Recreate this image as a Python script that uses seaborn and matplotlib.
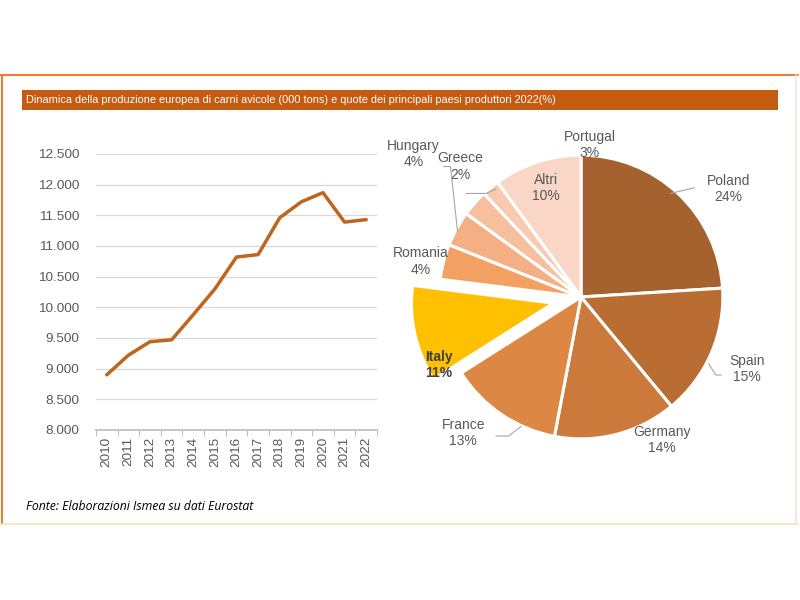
import numpy as np
import matplotlib
matplotlib.use("Agg")
import matplotlib.pyplot as plt
import seaborn as sns
from matplotlib.lines import Line2D
from matplotlib.patches import Rectangle

# data
years = [2010, 2011, 2012, 2013, 2014, 2015, 2016, 2017, 2018, 2019, 2020, 2021, 2022]
production = [8900, 9220, 9440, 9470, 9880, 10300, 10820, 10860, 11460, 11720, 11870, 11390, 11430]

countries = ['Poland', 'Spain', 'Germany', 'France', 'Italy', 'Romania',
             'Hungary', 'Portugal', 'Greece', 'Altri']
shares = [24, 15, 14, 13, 11, 4, 4, 3, 2, 10]
pie_colors = ['#A5622E', '#BA6D33', '#CC7A3C', '#DC8744', '#FFC000', '#F2A162',
              '#F4B084', '#F6BF9E', '#F8CAAF', '#F9D6C6']

title = "Dinamica della produzione europea di carni avicole (000 tons) e quote dei principali paesi produttori 2022(%)"
source = "Fonte: Elaborazioni Ismea su dati Eurostat"

sns.set_theme(style="white")
plt.rcParams['font.family'] = ['Liberation Sans', 'DejaVu Sans']

fig = plt.figure(figsize=(8, 6), dpi=100)
fig.patch.set_facecolor('white')

# outer frame
fig.add_artist(Line2D([0.0, 0.997], [1 - 75/600, 1 - 75/600], color='#ED7D31', lw=1.5))
fig.add_artist(Line2D([0.002, 0.002], [1 - 75/600, 1 - 524/600], color='#ED7D31', lw=1.5))
fig.add_artist(Line2D([0.995, 0.995], [1 - 75/600, 1 - 524/600], color='#FBE3CF', lw=1.2))
fig.add_artist(Line2D([0.0, 0.997], [1 - 524/600, 1 - 524/600], color='#F7E3B8', lw=1.2))

# title bar
fig.add_artist(Rectangle((22/800, 1 - 110/600), 756/800, 20/600,
                         transform=fig.transFigure, facecolor='#C55A11', edgecolor='none'))
fig.text(26/800, 1 - 100/600, title, color='white', fontsize=7.9, va='center', ha='left')

# line chart
ax = fig.add_axes([96/800, 1 - 430/600, 281/800, 276/600])
sns.lineplot(x=years, y=production, ax=ax, color='#C0651E', lw=2.5)
ax.set_xlim(2009.5, 2022.5)
ax.set_ylim(8000, 12500)
yt = np.arange(8000, 12501, 500)
ax.set_yticks(yt)
ax.set_yticklabels([f"{v:,.0f}".replace(",", ".") for v in yt])
ax.set_xticks(years)
ax.set_xticklabels([str(y) for y in years], rotation=90)
ax.set_xticks(np.arange(2009.5, 2023, 1), minor=True)
ax.tick_params(axis='x', which='major', length=0, pad=5, labelsize=9.7, labelcolor='#595959')
ax.tick_params(axis='x', which='minor', length=4, width=0.8, color='#BFBFBF', bottom=True)
ax.tick_params(axis='y', length=0, pad=12, labelsize=9.7, labelcolor='#595959')
ax.grid(axis='y', color='#D9D9D9', lw=0.9)
ax.grid(axis='x', visible=False)
for s in ['top', 'right', 'left']:
    ax.spines[s].set_visible(False)
ax.spines['bottom'].set_color('#BFBFBF')
ax.set_xlabel('')
ax.set_ylabel('')
ax.set_facecolor('none')

# pie chart
pax = fig.add_axes([381/800, 1 - 497/600, 400/800, 400/600])
explode = [0.2 if c == 'Italy' else 0 for c in countries]
pax.pie(shares, colors=pie_colors, startangle=90, counterclock=False, explode=explode,
        wedgeprops=dict(edgecolor='white', linewidth=2.2))
pax.set_xlim(-1.41, 1.41)
pax.set_ylim(-1.41, 1.41)
pax.set_aspect('equal')
pax.axis('off')

label_pos = {
    'Poland': (1.04, 0.76), 'Spain': (1.17, -0.51), 'Germany': (0.57, -1.01),
    'France': (-0.83, -0.96), 'Italy': (-1.0, -0.48), 'Romania': (-1.13, 0.25),
    'Hungary': (-1.18, 1.01), 'Portugal': (0.06, 1.07), 'Greece': (-0.85, 0.92),
    'Altri': (-0.25, 0.77),
}
for c, s in zip(countries, shares):
    x, y = label_pos[c]
    if c == 'Italy':
        pax.text(x, y, f"{c}\n{s}%", ha='center', va='center', fontsize=10,
                 fontweight='bold', color='#404040', linespacing=1.2)
    else:
        pax.text(x, y, f"{c}\n{s}%", ha='center', va='center', fontsize=10,
                 color='#595959', linespacing=1.2)

# leader lines
lc = '#A6A6A6'
pax.plot([0.63, 0.80], [0.73, 0.77], color=lc, lw=0.8)
pax.plot([0.90, 0.95, 0.99], [-0.47, -0.55, -0.55], color=lc, lw=0.8)
pax.plot([-0.60, -0.51, -0.42], [-0.98, -0.98, -0.91], color=lc, lw=0.8)
pax.plot([-0.81, -0.67, -0.60], [0.73, 0.73, 0.76], color=lc, lw=0.8)
pax.plot([-0.97, -0.92, -0.87], [0.92, 0.92, 0.46], color=lc, lw=0.8)

# source
fig.text(26/800, 1 - 507/600, source, fontsize=8.8, style='italic', color='#000000',
         family=['Open Sans', 'DejaVu Sans'], va='center', ha='left')

fig.savefig('out.png', dpi=100, facecolor='white')
